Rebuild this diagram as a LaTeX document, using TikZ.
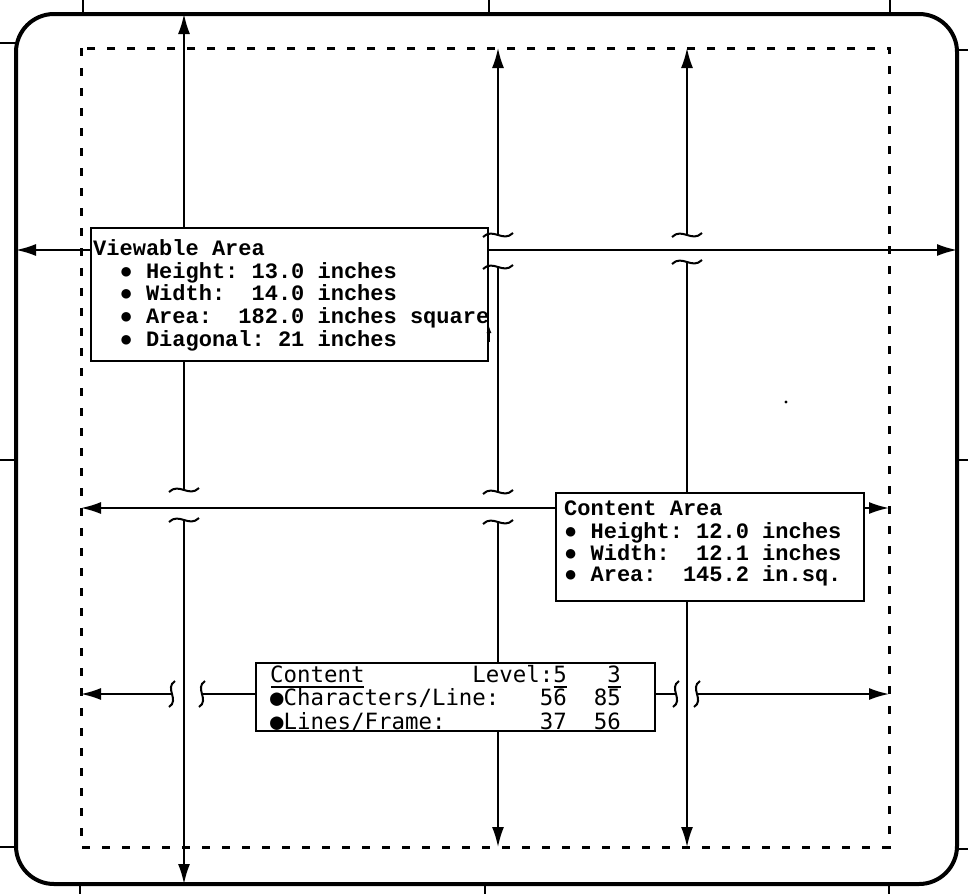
\documentclass[tikz,border=0pt]{standalone}
\usepackage{fontspec}
\usetikzlibrary{arrows.meta}
\newfontfamily\vfont{Liberation Mono}
\newfontfamily\lfont{DejaVu Sans Mono}
\tikzset{
  dim/.style={line width=1.8pt},
  arr/.style={dim,-{Latex[length=20pt,width=12pt]}},
  boxr/.style={draw, line width=2.4pt, fill=white, inner sep=0pt, anchor=north west},
  vt/.style={anchor=base west, inner sep=0pt, font=\vfont\bfseries\fontsize{22}{22}\selectfont\frenchspacing},
  lt/.style={anchor=base west, inner sep=0pt, font=\lfont\fontsize{22.4}{22}\selectfont\frenchspacing},
  outerframe/.style={line width=4pt, rounded corners=38pt},
  dsh/.style={line width=3pt, dash pattern=on 8pt off 12pt},
  brk/.style={line width=2pt},
  tickmark/.style={line width=1.5pt},
  tld/.pic={\draw[brk] (-15,2) .. controls (-5,-8) and (5,8) .. (15,-2);},
  sml/.pic={\draw[brk] (3,-13) .. controls (-8,-6) and (8,6) .. (-3,13);}
}
\begin{document}
\begin{tikzpicture}[x=1pt,y=-1pt]
\useasboundingbox (0,0) rectangle (968,894);
% outer frame and ticks
\draw[outerframe] (16,14) rectangle (957,884);
\foreach \x in {83,489,890} \draw[tickmark] (\x,0) -- (\x,14);
\foreach \x in {80,485,889} \draw[tickmark] (\x,884) -- (\x,894);
\foreach \y in {43,460,847} \draw[tickmark] (0,\y) -- (16,\y);
\foreach \y in {50,460,849} \draw[tickmark] (957,\y) -- (968,\y);
% dashed content boundary
\draw[dsh] (81,48) rectangle (889,847);
% boxes
\node[boxr, minimum width=397pt, minimum height=133pt] (va) at (90,227) {};
\node[boxr, minimum width=308pt, minimum height=108pt] (ca) at (555,492) {};
\node[boxr, minimum width=399pt, minimum height=68pt] (cl) at (255,662) {};
% coordinates
\coordinate (t1) at (184,14);  \coordinate (b1) at (184,884);
\coordinate (k1a) at (184,490); \coordinate (k1b) at (184,520);
\coordinate (t2) at (498,48);  \coordinate (b2) at (498,847);
\coordinate (k2a) at (498,235); \coordinate (k2b) at (498,267);
\coordinate (k2c) at (498,492); \coordinate (k2d) at (498,522);
\coordinate (t3) at (687,48);  \coordinate (b3) at (687,847);
\coordinate (k3a) at (687,235); \coordinate (k3b) at (687,262);
\coordinate (l1) at (16,250);  \coordinate (r1) at (957,250);
\coordinate (l2) at (81,508);  \coordinate (r2) at (889,508);
\coordinate (l3) at (81,694);  \coordinate (r3) at (889,694);
\coordinate (s1) at (172,694); \coordinate (s2) at (202,694);
\coordinate (s3) at (676,694); \coordinate (s4) at (697,694);
% vertical line 1
\draw[arr] (va.north -| t1) -- (t1);
\draw[dim] (va.south -| t1) -- (k1a);
\draw[arr] (k1b) -- (b1);
\pic at (k1a) {tld}; \pic at (k1b) {tld};
% vertical line 2
\draw[arr] (k2a) -- (t2);
\draw[dim] (k2b) -- (k2c);
\draw[dim] (k2d) -- (cl.north -| k2d);
\draw[arr] (cl.south -| k2d) -- (b2);
\pic at (k2a) {tld}; \pic at (k2b) {tld};
\pic at (k2c) {tld}; \pic at (k2d) {tld};
% vertical line 3
\draw[arr] (k3a) -- (t3);
\draw[dim] (k3b) -- (ca.north -| k3b);
\draw[arr] (ca.south -| k3b) -- (b3);
\pic at (k3a) {tld}; \pic at (k3b) {tld};
% horizontal line 1
\draw[arr] (va.west |- l1) -- (l1);
\draw[arr] (va.east |- r1) -- (r1);
% horizontal line 2
\draw[arr] (ca.west |- l2) -- (l2);
\draw[arr] (ca.east |- r2) -- (r2);
% horizontal line 3
\draw[arr] (s1) -- (l3);
\draw[dim] (cl.west |- s2) -- (s2);
\draw[dim] (cl.east |- s3) -- (s3);
\draw[arr] (s4) -- (r3);
\pic at (s1) {sml}; \pic at (s2) {sml}; \pic at (s3) {sml}; \pic at (s4) {sml};
% small marks
\draw[line width=1.2pt,-{Latex[length=7pt,width=5pt]}] (489,342) -- (489,326);
\fill (786,402) circle (1.6pt);
% texts: viewable area
\node[vt] (va1) at (93,255) {Viewable Area};
\node[vt] (va2) at (93,278) {\ \ ● Height: 13.0 inches};
\node[vt] (va3) at (93,300.5) {\ \ ● Width:\ \ 14.0 inches};
\node[vt] (va4) at (93,323) {\ \ ● Area:\ \ 182.0 inches square};
\node[vt] (va5) at (93,346) {\ \ ● Diagonal: 21 inches};
% texts: content area
\node[vt] (ca1) at (564,515) {Content Area};
\node[vt] (ca2) at (564,538) {● Height: 12.0 inches};
\node[vt] (ca3) at (564,560) {● Width:\ \ 12.1 inches};
\node[vt] (ca4) at (564,581) {● Area:\ \ 145.2 in.sq.};
% texts: content level
\node[lt] (cl1) at (270,682) {Content\ \ \ \ \ \ \ \ Level:5\ \ \ 3};
\node[lt] (cl2) at (270,705.5) {●Characters/Line:\ \ \ 56\ \ 85};
\node[lt] (cl3) at (270,729) {●Lines/Frame:\ \ \ \ \ \ \ 37\ \ 56};
\draw[dim] (271,687) -- (364,687);
\draw[dim] (553.5,687) -- (566.5,687);
\draw[dim] (607.5,687) -- (620.5,687);
\end{tikzpicture}
\end{document}
